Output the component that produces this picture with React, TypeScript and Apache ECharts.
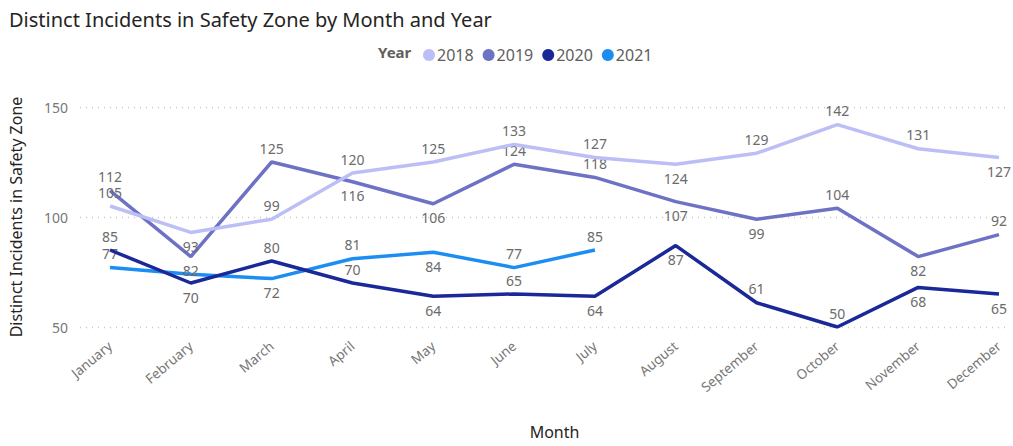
import React, { useEffect, useRef } from "react";
import * as echarts from "echarts";

const months = [
  "January", "February", "March", "April", "May", "June",
  "July", "August", "September", "October", "November", "December",
];
const years = ["2018", "2019", "2020", "2021"];
const v2018 = [105, 93, 99, 120, 125, 133, 127, 124, 129, 142, 131, 127];
const v2019 = [112, 82, 125, 116, 106, 124, 118, 107, 99, 104, 82, 92];
const v2020 = [85, 70, 80, 70, 64, 65, 64, 87, 61, 50, 68, 65];
const v2021 = [77, 74, 72, 81, 84, 77, 85];
const yTicks = { min: 50, max: 150, interval: 50 };

// label placement (above / below / hidden) per point
const pos2018 = ["top", "bottom", "top", "top", "top", "top", "top", "bottom", "top", "top", "top", "bottom"];
const pos2019 = ["top", "bottom", "top", "bottom", "bottom", "top", "top", "bottom", "bottom", "top", "bottom", "top"];
const pos2020 = ["top", "bottom", "top", "top", "bottom", "top", "bottom", "bottom", "top", "top", "bottom", "bottom"];
const pos2021 = ["top", "none", "bottom", "top", "bottom", "top", "top"];

const colors = ["#BCBFF6", "#6E72C4", "#1B2898", "#1C8DF2"];
const FONT = "'Noto Sans', 'Open Sans', sans-serif";

export default function App() {
  const ref = useRef<HTMLDivElement>(null);
  useEffect(() => {
    document.body.style.margin = "0";
    if (!ref.current) return;
    const chart = echarts.init(ref.current, undefined, { renderer: "svg" });
    const values = [v2018, v2019, v2020, v2021];
    const positions = [pos2018, pos2019, pos2020, pos2021];
    const series = years.map((y, si) => ({
      name: y,
      type: "line",
      xAxisIndex: 1,
      yAxisIndex: 1,
      symbol: "circle",
      symbolSize: 0,
      showSymbol: true,
      lineStyle: { width: 3.5, color: colors[si] },
      itemStyle: { color: colors[si] },
      z: 10 - si,
      data: values[si].map((v, i) => {
        const p = positions[si][i];
        return {
          value: v,
          label: p === "none" ? { show: false } : { show: true, position: p },
        };
      }),
      label: {
        show: true,
        distance: 7,
        color: "#6B6B6B",
        fontSize: 14,
        fontFamily: FONT,
      },
    }));
    chart.setOption({
      animation: false,
      title: {
        text: "Distinct Incidents in Safety Zone by Month and Year",
        left: 4,
        top: 4,
        textStyle: { fontSize: 20, fontWeight: "normal", color: "#252423", fontFamily: FONT },
      },
      graphic: [
        {
          type: "text",
          left: 378,
          top: 44,
          style: { text: "Year", font: `bold 15px ${FONT}`, fill: "#605E5C" },
        },
      ],
      legend: {
        left: 418,
        top: 42,
        icon: "circle",
        itemWidth: 12,
        itemHeight: 12,
        itemGap: 9,
        textStyle: { fontSize: 16, color: "#605E5C", fontFamily: FONT, padding: [0, 0, 0, -3] },
        data: years,
      },
      grid: [
        { left: 78, right: 6, top: 107, height: 220 },
        { left: 110, right: 14, top: 107, height: 220 },
      ],
      xAxis: [
        { type: "category", gridIndex: 0, data: months, show: false },
        {
          type: "category",
          gridIndex: 1,
          data: months,
          boundaryGap: false,
          axisLine: { show: false },
          axisTick: { show: false },
          axisLabel: {
            rotate: 40,
            color: "#777777",
            fontSize: 13.5,
            margin: 17,
            fontFamily: FONT,
            interval: 0,
          },
          name: "Month",
          nameLocation: "middle",
          nameGap: 97,
          nameTextStyle: { fontSize: 16, color: "#252423", fontFamily: FONT },
        },
      ],
      yAxis: [
        {
          type: "value",
          gridIndex: 0,
          min: yTicks.min,
          max: yTicks.max,
          interval: yTicks.interval,
          axisLine: { show: false },
          axisTick: { show: false },
          axisLabel: { color: "#777777", fontSize: 14, margin: 12, fontFamily: FONT },
          splitLine: { lineStyle: { color: "#C8C8C8", type: [1, 5], width: 1.3 } },
          name: "Distinct Incidents in Safety Zone",
          nameLocation: "middle",
          nameGap: 56,
          nameTextStyle: { fontSize: 16, color: "#252423", fontFamily: FONT },
        },
        {
          type: "value",
          gridIndex: 1,
          min: yTicks.min,
          max: yTicks.max,
          interval: yTicks.interval,
          show: false,
          splitLine: { show: false },
        },
      ],
      series,
    });
    return () => chart.dispose();
  }, []);
  return <div ref={ref} style={{ width: 1013, height: 446 }} />;
}
